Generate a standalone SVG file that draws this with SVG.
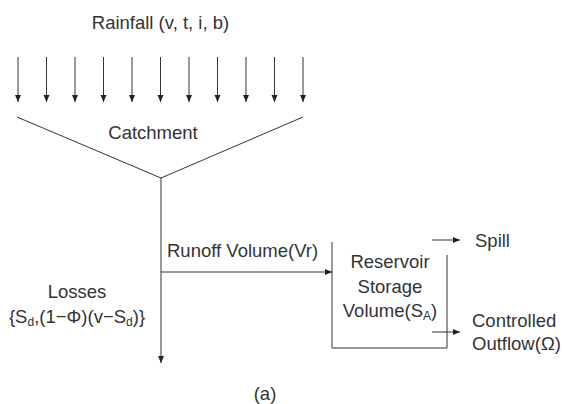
<svg xmlns="http://www.w3.org/2000/svg" width="564" height="404" viewBox="0 0 564 404">
<defs>
<marker id="ah" markerWidth="8" markerHeight="8" refX="7" refY="4" orient="auto" markerUnits="userSpaceOnUse">
<path d="M0,1 L7,4 L0,7 Z" fill="#222"/>
</marker>
<style>
.t{font-family:"Liberation Sans",Arial,sans-serif;font-size:18.5px;fill:#333;}
.s{font-size:12px;}
.l{stroke:#333;stroke-width:1;fill:none;}
.a{stroke:#333;stroke-width:1;fill:none;marker-end:url(#ah);}
</style>
</defs>
<rect width="564" height="404" fill="#fff"/>
<g id="rainfall">
<text class="t" x="160.5" y="29" text-anchor="middle">Rainfall (v, t, i, b)</text>
</g>
<g id="rain-arrows">
<line class="a" x1="18" y1="57" x2="18" y2="102"/>
<line class="a" x1="46.5" y1="57" x2="46.5" y2="102"/>
<line class="a" x1="75" y1="57" x2="75" y2="102"/>
<line class="a" x1="103.5" y1="57" x2="103.5" y2="102"/>
<line class="a" x1="132" y1="57" x2="132" y2="102"/>
<line class="a" x1="160.5" y1="57" x2="160.5" y2="102"/>
<line class="a" x1="189" y1="57" x2="189" y2="102"/>
<line class="a" x1="217.5" y1="57" x2="217.5" y2="102"/>
<line class="a" x1="246" y1="57" x2="246" y2="102"/>
<line class="a" x1="274.5" y1="57" x2="274.5" y2="102"/>
<line class="a" x1="303" y1="57" x2="303" y2="102"/>
</g>
<g id="catchment">
<polyline class="l" points="17,117 161,178 303,117"/>
<text class="t" x="153" y="139" text-anchor="middle">Catchment</text>
</g>
<g id="losses">
<text class="t" x="77" y="298" text-anchor="middle">Losses</text>
<text class="t" x="77" y="323" text-anchor="middle">{S<tspan class="s" dy="3">d</tspan><tspan dy="-3">,(1−Φ)(v−S</tspan><tspan class="s" dy="3">d</tspan><tspan dy="-3">)}</tspan></text>
</g>
<g id="reservoir">
<polyline class="l" points="332,242 332,348 447,348 447,255"/>
<text class="t" x="390" y="268" text-anchor="middle">Reservoir</text>
<text class="t" x="390" y="293" text-anchor="middle">Storage</text>
<text class="t" x="390" y="317" text-anchor="middle">Volume(S<tspan class="s" dy="3">A</tspan><tspan dy="-3">)</tspan></text>
</g>
<g id="spill">
<text class="t" x="475" y="247">Spill</text>
</g>
<g id="outflow">
<text class="t" x="472" y="327">Controlled</text>
<text class="t" x="472" y="350">Outflow(Ω)</text>
</g>
<g id="connectors">
<line class="a" x1="161" y1="178" x2="161" y2="363"/>
<line class="a" x1="161" y1="272" x2="332" y2="272"/>
<text class="t" x="167" y="257">Runoff Volume(Vr)</text>
<line class="a" x1="432" y1="240" x2="460" y2="240"/>
<line class="a" x1="432" y1="332" x2="460" y2="332"/>
</g>
<text class="t" x="265" y="400" text-anchor="middle">(a)</text>
</svg>
